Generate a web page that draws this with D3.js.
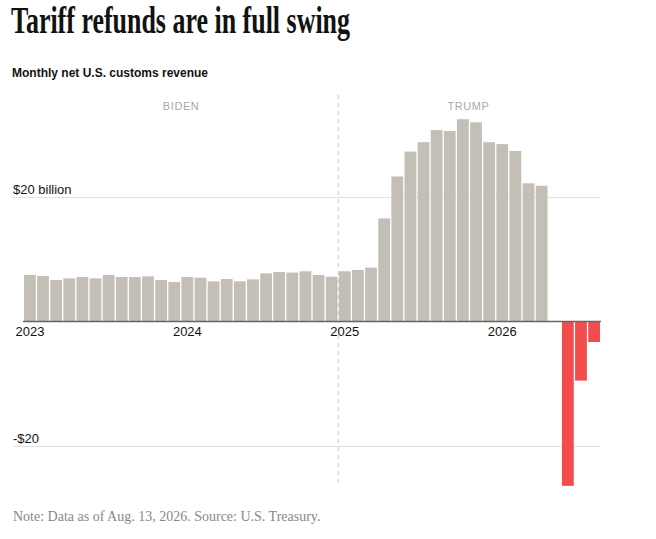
<!DOCTYPE html>
<html>
<head>
<meta charset="utf-8">
<script src="https://cdn.jsdelivr.net/npm/d3@7"></script>
<style>
  body { margin: 0; background: #fff; }
  svg { display: block; }
</style>
</head>
<body>
<script>
// monthly net customs revenue, billions of dollars, Jan 2023 - Aug 2026
const months = d3.range(44).map(i => new Date(2023, i, 1));
const revenue = [
  7.47, 7.3, 6.66, 6.93, 7.15, 6.93, 7.47, 7.15, 7.15, 7.26, 6.66, 6.34,
  7.15, 7.04, 6.45, 6.82, 6.45, 6.77, 7.74, 7.96, 7.85, 8.07, 7.47, 7.2,
  8.07, 8.28, 8.66, 16.56, 23.3, 27.3, 28.8, 30.75, 30.6, 32.5, 32.0, 28.8,
  28.5, 27.4, 22.2, 21.8, null, -26.4, -9.5, -3.3
];
const yearTicks = [0, 12, 24, 36];
const yearLabels = ['2023', '2024', '2025', '2026'];
const gridValues = [20, -20];
const gridLabels = ['$20 billion', '-$20'];
const eraLabels = ['BIDEN', 'TRUMP'];

const width = 656, height = 539;

const svg = d3.select('body')
              .append('svg')
              .attr('width', width)
              .attr('height', height);

const x = d3.scaleBand()
            .domain(d3.range(months.length))
            .range([23.34, 600.66])
            .paddingInner(0.1)
            .paddingOuter(0.05);

const y = d3.scaleLinear()
            .domain([-20, 20])
            .range([446, 197]);

// title block
svg.append('text')
   .attr('x', 11)
   .attr('y', 33)
   .attr('font-family', 'Liberation Serif, serif')
   .attr('font-weight', 'bold')
   .attr('font-size', 37)
   .attr('textLength', 339)
   .attr('lengthAdjust', 'spacingAndGlyphs')
   .attr('fill', '#121212')
   .text('Tariff refunds are in full swing');

svg.append('text')
   .attr('x', 12)
   .attr('y', 77)
   .attr('font-family', 'Liberation Sans, Arial, sans-serif')
   .attr('font-weight', 'bold')
   .attr('font-size', 12.5)
   .attr('textLength', 196)
   .attr('lengthAdjust', 'spacingAndGlyphs')
   .attr('fill', '#121212')
   .text('Monthly net U.S. customs revenue');

// gridlines
const grid = svg.append('g')
                .attr('transform', 'translate(13,0)')
                .call(d3.axisRight(y)
                        .tickValues(gridValues)
                        .tickSize(588)
                        .tickFormat((d, i) => gridLabels[i]));
grid.select('.domain').remove();
grid.selectAll('line').attr('stroke', '#e2e2e2').attr('stroke-width', 1);
grid.selectAll('text')
    .attr('x', 0)
    .attr('dy', -4)
    .attr('text-anchor', 'start')
    .attr('font-family', 'Liberation Sans, Arial, sans-serif')
    .attr('font-size', 13)
    .attr('fill', '#121212');

// term divider
const divideX = x(24) - x.step() * 0.05;
svg.append('line')
   .attr('x1', divideX)
   .attr('x2', divideX)
   .attr('y1', 95)
   .attr('y2', 485)
   .attr('stroke', '#c8c8c8')
   .attr('stroke-dasharray', '4,4');

svg.selectAll('.era')
   .data(eraLabels)
   .enter()
   .append('text')
   .attr('class', 'era')
   .attr('x', (d, i) => i === 0 ? (x(0) + divideX) / 2 : 468.5)
   .attr('y', 110)
   .attr('text-anchor', 'middle')
   .attr('font-family', 'Liberation Sans, Arial, sans-serif')
   .attr('font-size', 11)
   .attr('letter-spacing', 0.6)
   .attr('fill', '#a8a8a8')
   .text(d => d);

// bars
svg.selectAll('.bar')
   .data(revenue.map((v, i) => ({ i: i, v: v })).filter(d => d.v !== null))
   .enter()
   .append('rect')
   .attr('class', 'bar')
   .attr('x', d => x(d.i))
   .attr('width', x.bandwidth())
   .attr('y', d => y(Math.max(0, d.v)))
   .attr('height', d => Math.abs(y(d.v) - y(0)))
   .attr('fill', d => d.v < 0 ? '#f34c4c' : '#c4bfb6');

// baseline and year labels
const xAxis = svg.append('g')
                 .attr('transform', `translate(0,${y(0)})`)
                 .call(d3.axisBottom(x)
                         .tickValues(yearTicks)
                         .tickSize(0)
                         .tickPadding(5)
                         .tickFormat((d, i) => yearLabels[i]));
xAxis.select('.domain')
     .attr('d', `M23,0H601`)
     .attr('stroke', '#666')
     .attr('stroke-width', 1.5);
xAxis.selectAll('text')
     .attr('font-family', 'Liberation Sans, Arial, sans-serif')
     .attr('font-size', 13)
     .attr('fill', '#121212');

// note
svg.append('text')
   .attr('x', 13)
   .attr('y', 521)
   .attr('font-family', 'Liberation Serif, serif')
   .attr('font-size', 14)
   .attr('fill', '#888')
   .text('Note: Data as of Aug. 13, 2026. Source: U.S. Treasury.');
</script>
</body>
</html>
